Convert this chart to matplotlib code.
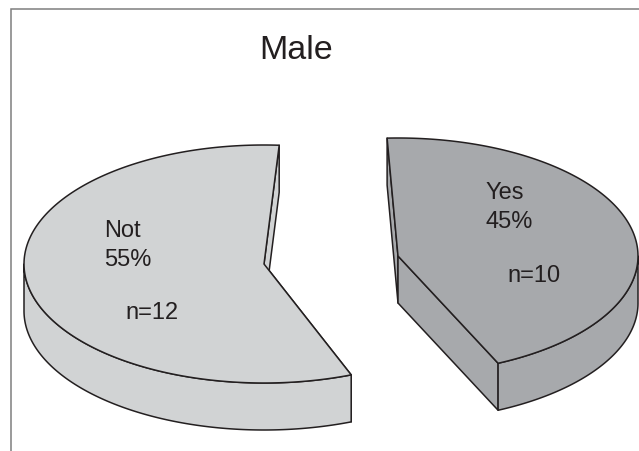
import numpy as np
import matplotlib
matplotlib.use("Agg")
import matplotlib.pyplot as plt
from matplotlib.patches import Polygon

plt.rcParams['font.family'] = ['Liberation Sans', 'DejaVu Sans']

# dados
title = "Male"
names = ["Not", "Yes"]
percents = [55, 45]
counts = [12, 10]
colors = ["#d1d3d4", "#a7a9ac"]

W, H = 639, 451
EDGE = "#231f20"
A = 240           # raio horizontal da elipse em px
B = [119, 118]    # raio vertical de cada fatia
DEPTH = 47

# layout de cada fatia: apice, angulo inicial, ajuste de perspectiva
apex = [(264, 264), (398, 256)]
start = [158.7, -2.6]
persp = [1.035, 0.975]
label_xy = [(104, 266), (486, 228)]  # baseline da ultima linha
n_xy = [(125, 319), (507, 282)]


def rim(cx, cy, b, t0, t1, dz=0):
    t = np.radians(np.linspace(t0, t1, 200))
    return np.column_stack([cx + A * np.sin(t), cy - b * np.cos(t) + dz])


fig = plt.figure(figsize=(W / 100, H / 100), dpi=100)
ax = fig.add_axes([0, 0, 1, 1])
ax.set_xlim(0, W)
ax.set_ylim(H, 0)
ax.axis("off")

# moldura
ax.plot([11, 11, W], [H, 8.5, 8.5], color="#7f7f7f", lw=1.1, solid_joinstyle="miter")

for i in range(2):
    cx, cy = apex[i]
    b = B[i]
    t0 = start[i]
    t1 = t0 + 3.6 * percents[i] * persp[i]
    arc = rim(cx, cy, b, t0, t1)
    kw = dict(facecolor=colors[i], edgecolor=EDGE, lw=1.1, joinstyle="round")

    # paredes de corte (atras da face superior)
    for t in (t0, t1):
        p = rim(cx, cy, b, t, t)[0]
        wall = [(cx, cy), p, (p[0], p[1] + DEPTH), (cx, cy + DEPTH)]
        ax.add_patch(Polygon(wall, closed=True, **kw))

    # lateral externa, so a parte da frente
    lo, hi = max(t0, 90), min(t1, 270)
    top = rim(cx, cy, b, lo, hi)
    bottom = rim(cx, cy, b, hi, lo, DEPTH)
    ax.add_patch(Polygon(np.vstack([top, bottom]), closed=True, **kw))

    # face superior
    ax.add_patch(Polygon(np.vstack([[(cx, cy)], arc]), closed=True, **kw))

    ax.text(*label_xy[i], f"{names[i]}\n{percents[i]}%", fontsize=17, color=EDGE,
            va="baseline", ha="left", linespacing=1.4)
    ax.text(*n_xy[i], f"n={counts[i]}", fontsize=17, color=EDGE, va="baseline", ha="left")

ax.text(259, 59, title, fontsize=24.5, color=EDGE, va="baseline", ha="left")

fig.savefig("out.png", dpi=100)
